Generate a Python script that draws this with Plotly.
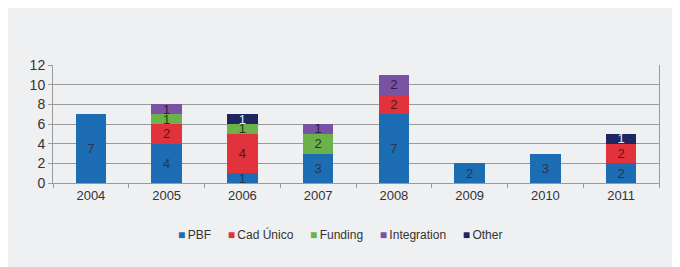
import plotly.graph_objects as go

years = ["2004", "2005", "2006", "2007", "2008", "2009", "2010", "2011"]
pbf = [7, 4, 1, 3, 7, 2, 3, 2]
cad_unico = [0, 2, 4, 0, 2, 0, 0, 2]
funding = [0, 1, 1, 2, 0, 0, 0, 0]
integration = [0, 1, 0, 1, 2, 0, 0, 0]
other = [0, 0, 1, 0, 0, 0, 0, 1]

series = [
    ("PBF", pbf, "#1c6db3", "#2a3550"),
    ("Cad Único", cad_unico, "#e2323c", "#4a1a20"),
    ("Funding", funding, "#6cb24a", "#25351c"),
    ("Integration", integration, "#7a52a3", "#2c2040"),
    ("Other", other, "#1e2660", "#e8e8f0"),
]

FONT = "Liberation Sans Narrow, Liberation Sans, Arial, sans-serif"

fig = go.Figure()
for name, vals, color, tcolor in series:
    fig.add_trace(go.Bar(
        x=years,
        y=[v if v else None for v in vals],
        name=name,
        marker=dict(color=color, line=dict(width=0)),
        text=[str(v) if v else "" for v in vals],
        textposition="inside",
        insidetextanchor="middle",
        textangle=0,
        textfont=dict(color=tcolor, size=13, family=FONT),
    ))

# compact legend drawn as a single annotation
legend_parts = []
for name, vals, color, tcolor in series:
    legend_parts.append(f'<span style="color:{color}">■</span>&#8201;{name}')
legend_text = "&nbsp;&nbsp;&nbsp;&nbsp;&nbsp;".join(legend_parts)

fig.add_annotation(
    text=legend_text,
    xref="paper", yref="paper",
    x=0.474, y=-0.44,
    xanchor="center", yanchor="middle",
    showarrow=False,
    font=dict(size=12, color="#333333", family=FONT),
)

fig.update_layout(
    barmode="stack",
    bargap=0.6,
    width=665, height=259,
    margin=dict(l=45, r=14, t=57, b=84),
    paper_bgcolor="#eff0f2",
    plot_bgcolor="#eff0f2",
    font=dict(family=FONT, size=13, color="#333333"),
    uniformtext=dict(minsize=12, mode="show"),
    showlegend=False,
)
fig.update_xaxes(
    type="category",
    showline=True, linecolor="#9a9a9a", linewidth=1,
    ticks="outside", tickson="boundaries", ticklen=4, tickcolor="#9a9a9a",
    showgrid=False,
    tickfont=dict(size=13, color="#333333"),
)
fig.update_yaxes(
    range=[0, 12], dtick=2,
    showline=True, mirror=True, linecolor="#9a9a9a", linewidth=1,
    showgrid=True, gridcolor="#9a9a9a", gridwidth=1,
    ticks="outside", ticklen=4, tickcolor="#9a9a9a",
    tickfont=dict(size=14, color="#333333"),
    zeroline=False,
)

fig.write_html("out.html")
